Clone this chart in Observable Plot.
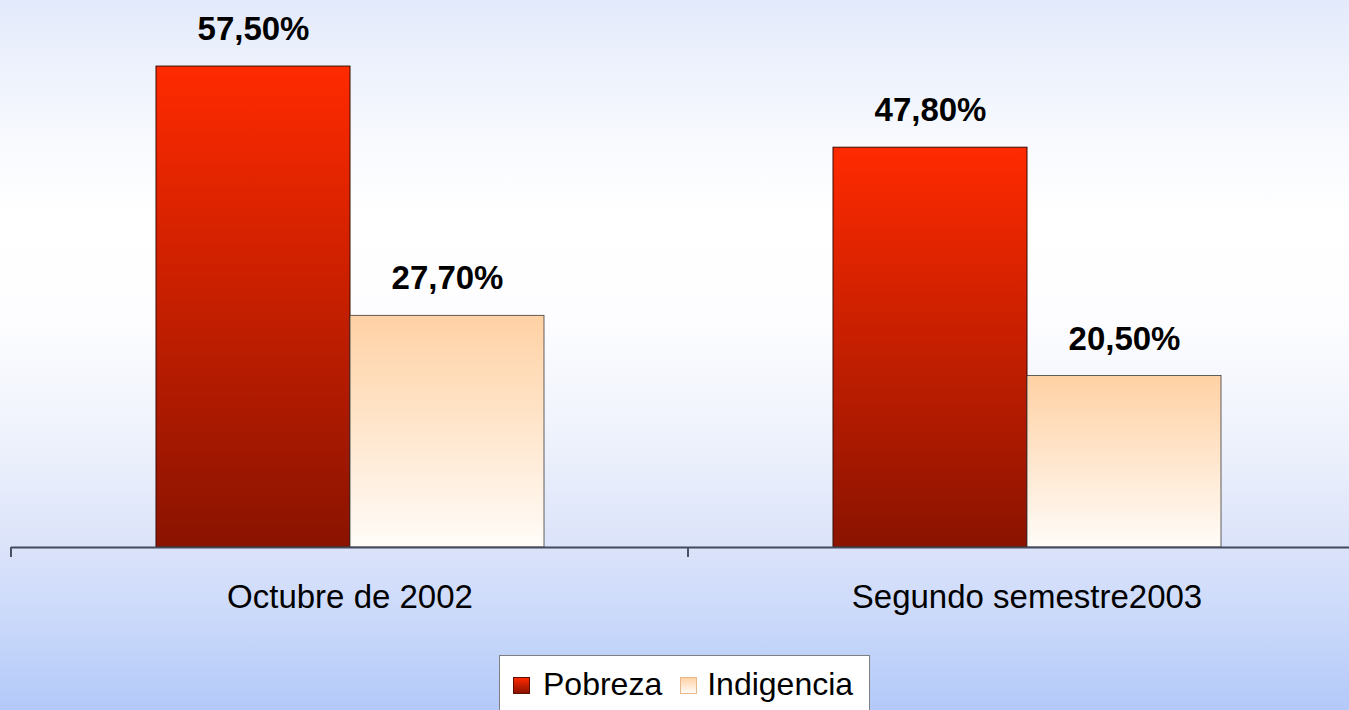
<!DOCTYPE html>
<html>
<head>
<meta charset="utf-8">
<script src="https://cdn.jsdelivr.net/npm/d3@7"></script>
<script src="https://cdn.jsdelivr.net/npm/@observablehq/plot@0.6"></script>
<style>
  html, body { margin: 0; padding: 0; }
  body { width: 1349px; height: 710px; overflow: hidden; font-family: "Liberation Sans", Arial, sans-serif; }
  #stage {
    position: relative; width: 1349px; height: 710px; overflow: hidden;
    background: linear-gradient(to bottom, #e3eafb 0%, #f8fafe 20%, #ffffff 31%, #fdfdff 45%, #eef2fc 62%, #dbe3fa 77%, #c9d8fa 88%, #b3c9fa 100%);
  }
  #chart { position: absolute; left: 0; top: 0; width: 1365px; }
  #legend {
    position: absolute; left: 499px; top: 655px; width: 371px; height: 70px;
    background: #ffffff; border: 1px solid #7f7f7f; box-sizing: border-box;
    padding-top: 8px; padding-left: 13px; font-size: 32px; line-height: 40px; color: #000;
    white-space: nowrap;
  }
  #legend .sw { display: inline-block; width: 15px; height: 15px; vertical-align: baseline; position: relative; top: -1px; }
  #legend .sw.p { background: linear-gradient(to bottom, #ff2a00, #8b1200); border: 1px solid #5a1000; }
  #legend .sw.i { background: linear-gradient(to bottom, #ffd2a6, #fffbf7); border: 1px solid #e8b88a; }
</style>
</head>
<body>
<svg width="0" height="0" style="position:absolute">
  <defs>
    <linearGradient id="gradPobreza" x1="0" y1="0" x2="0" y2="1">
      <stop offset="0%" stop-color="#ff2a00"/>
      <stop offset="100%" stop-color="#8a1300"/>
    </linearGradient>
    <linearGradient id="gradIndigencia" x1="0" y1="0" x2="0" y2="1">
      <stop offset="0%" stop-color="#ffd1a4"/>
      <stop offset="100%" stop-color="#fffcf8"/>
    </linearGradient>
  </defs>
</svg>
<div id="stage">
  <div id="chart"></div>
  <div id="legend"><span class="sw p"></span><span style="margin-left:13px">Pobreza</span><span class="sw i" style="margin-left:18px"></span><span style="margin-left:10px">Indigencia</span></div>
</div>
<script>
// ---- data ----
const periods = ["Octubre de 2002", "Segundo semestre2003"];
const seriesNames = ["Pobreza", "Indigencia"];
const pobreza = [57.5, 47.8];
const indigencia = [27.7, 20.5];

const fmt = v => v.toFixed(2).replace(".", ",") + "%";

const pobrezaRows = periods.map((p, i) => ({period: p, series: "Pobreza", value: pobreza[i]}));
const indigenciaRows = periods.map((p, i) => ({period: p, series: "Indigencia", value: indigencia[i]}));
const allRows = pobrezaRows.concat(indigenciaRows);

const chart = Plot.plot({
  width: 1365,
  height: 655,
  marginLeft: 11,
  marginRight: 0,
  marginTop: 0,
  marginBottom: 108,
  style: {
    background: "transparent",
    maxWidth: "none",
    overflow: "visible",
    fontFamily: "'Liberation Sans', Arial, sans-serif",
    fontSize: "33px",
    color: "#000"
  },
  fx: {domain: periods, padding: 0, label: null, tickSize: 0, tickPadding: 37},
  x: {domain: seriesNames, paddingInner: 0, paddingOuter: 0.7365, axis: null},
  y: {domain: [0, 65.4], axis: null},
  marks: [
    Plot.barY(pobrezaRows, {fx: "period", x: "series", y: "value", fill: "url(#gradPobreza)", stroke: "#3a0b02", strokeWidth: 1}),
    Plot.barY(indigenciaRows, {fx: "period", x: "series", y: "value", fill: "url(#gradIndigencia)", stroke: "#3a3a3a", strokeWidth: 0.8}),
    Plot.ruleY([0], {stroke: "#444b5c", strokeWidth: 2}),
    Plot.text(allRows, {fx: "period", x: "series", y: "value", text: d => fmt(d.value), dy: -37, fontWeight: "bold", fontSize: 33, fill: "#000"})
  ]
});

// boundary ticks of the category axis, placed with the plot's own scales
const fxs = chart.scale("fx");
const ys = chart.scale("y");
const y0 = ys.apply(0);
const bounds = periods.map(p => fxs.apply(p)).concat([fxs.apply(periods[periods.length - 1]) + fxs.bandwidth]);
d3.select(chart).append("g")
  .selectAll("line").data(bounds).join("line")
  .attr("x1", d => d).attr("x2", d => d)
  .attr("y1", y0).attr("y2", y0 + 10)
  .attr("stroke", "#4a5262").attr("stroke-width", 2);

document.getElementById("chart").appendChild(chart);
</script>
</body>
</html>
